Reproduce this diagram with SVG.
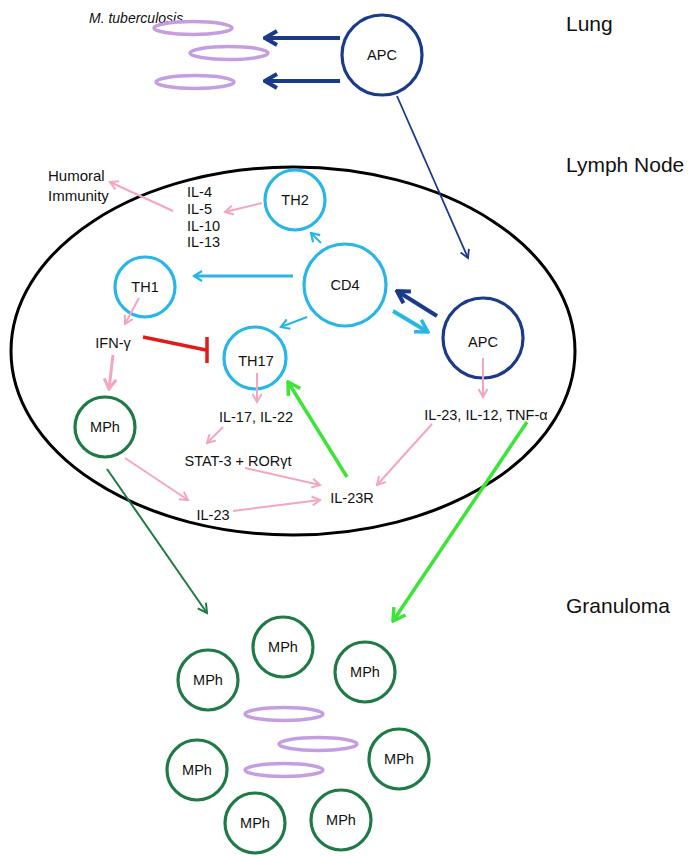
<svg xmlns="http://www.w3.org/2000/svg" width="689" height="856" viewBox="0 0 689 856">
<style>
text{font-family:"Liberation Sans",Arial,sans-serif;font-size:14.5px;fill:#111}
.lbl{font-size:21px}
.mid{text-anchor:middle}
.cy{fill:none;stroke:#29b6e6;stroke-width:3.2}
.nv{fill:none;stroke:#1b3a8a;stroke-width:3.2}
.dg{fill:none;stroke:#1f7a47;stroke-width:3.2}
.mtb{fill:none;stroke:#c49ee0;stroke-width:3.5}
.pk{stroke:#f2a7bf;stroke-width:2;fill:none}
.pkT{stroke:#f2a7bf;stroke-width:3;fill:none}
.cyL{stroke:#29b6e6;fill:none}
.nvL{stroke:#1b3a8a;fill:none}
.gr{stroke:#3ee33a;stroke-width:3.5;fill:none}
.dgL{stroke:#1f7a47;stroke-width:2;fill:none}
</style>
<defs>
<marker id="aPk" markerUnits="userSpaceOnUse" viewBox="-10 -6 12 12" refX="0" refY="0" markerWidth="12" markerHeight="12" orient="auto"><path d="M-8,-4.5 L0,0 L-8,4.5" fill="none" stroke="#f2a7bf" stroke-width="2"/></marker>
<marker id="aPkT" markerUnits="userSpaceOnUse" viewBox="-12 -8 14 16" refX="0" refY="0" markerWidth="14" markerHeight="16" orient="auto"><path d="M-10,-6 L0,0 L-10,6" fill="none" stroke="#f2a7bf" stroke-width="3"/></marker>
<marker id="aCy" markerUnits="userSpaceOnUse" viewBox="-10 -6 12 12" refX="0" refY="0" markerWidth="12" markerHeight="12" orient="auto"><path d="M-8,-5 L0,0 L-8,5" fill="none" stroke="#29b6e6" stroke-width="2.2"/></marker>
<marker id="aCyT" markerUnits="userSpaceOnUse" viewBox="-14 -9 16 18" refX="0" refY="0" markerWidth="16" markerHeight="18" orient="auto"><path d="M-12,-7 L0,0 L-12,7" fill="none" stroke="#29b6e6" stroke-width="3.5"/></marker>
<marker id="aNv" markerUnits="userSpaceOnUse" viewBox="-10 -6 12 12" refX="0" refY="0" markerWidth="12" markerHeight="12" orient="auto"><path d="M-8,-4.5 L0,0 L-8,4.5" fill="none" stroke="#1b3a8a" stroke-width="1.8"/></marker>
<marker id="aNvT" markerUnits="userSpaceOnUse" viewBox="-14 -9 16 18" refX="0" refY="0" markerWidth="16" markerHeight="18" orient="auto"><path d="M-12,-7 L0,0 L-12,7" fill="none" stroke="#1b3a8a" stroke-width="4"/></marker>
<marker id="aGr" markerUnits="userSpaceOnUse" viewBox="-14 -9 16 18" refX="0" refY="0" markerWidth="16" markerHeight="18" orient="auto"><path d="M-12,-7 L0,0 L-12,7" fill="none" stroke="#3ee33a" stroke-width="3.5"/></marker>
<marker id="aDg" markerUnits="userSpaceOnUse" viewBox="-10 -6 12 12" refX="0" refY="0" markerWidth="12" markerHeight="12" orient="auto"><path d="M-9,-5 L0,0 L-9,5" fill="none" stroke="#1f7a47" stroke-width="2"/></marker>
</defs>
<rect width="689" height="856" fill="#fff"/>

<g id="compartment-labels">
<text class="lbl" x="566" y="31">Lung</text>
<text class="lbl" x="566" y="172">Lymph Node</text>
<text class="lbl" x="566" y="613">Granuloma</text>
</g>

<g id="lymph-node">
<ellipse cx="293" cy="351" rx="282" ry="184" fill="none" stroke="#000" stroke-width="3"/>
</g>

<g id="mtb-lung">
<text x="89" y="23" font-style="italic" style="font-size:14px">M. tuberculosis</text>
<ellipse class="mtb" cx="193" cy="28" rx="39" ry="6.5"/>
<ellipse class="mtb" cx="229" cy="53" rx="39" ry="6.5"/>
<ellipse class="mtb" cx="195" cy="82" rx="39" ry="6.5"/>
</g>

<g id="apc-lung"><circle class="nv" cx="382" cy="55" r="40"/><text class="mid" x="382" y="60">APC</text></g>
<g id="th2"><circle class="cy" cx="295" cy="200" r="30"/><text class="mid" x="295" y="205">TH2</text></g>
<g id="cd4"><circle class="cy" cx="345" cy="285" r="41"/><text class="mid" x="345" y="290">CD4</text></g>
<g id="th1"><circle class="cy" cx="145" cy="287" r="30"/><text class="mid" x="145" y="292">TH1</text></g>
<g id="th17"><circle class="cy" cx="255" cy="358" r="31"/><text class="mid" x="256" y="366">TH17</text></g>
<g id="apc-ln"><circle class="nv" cx="483" cy="338" r="40"/><text class="mid" x="483" y="347">APC</text></g>
<g id="mph-ln"><circle class="dg" cx="105" cy="427" r="30"/><text class="mid" x="105" y="432">MPh</text></g>

<g id="labels">
<text x="48" y="181" style="font-size:15px">Humoral</text>
<text x="48" y="201" style="font-size:15px">Immunity</text>
<text x="187" y="197">IL-4</text>
<text x="187" y="214">IL-5</text>
<text x="187" y="231">IL-10</text>
<text x="187" y="247">IL-13</text>
<text class="mid" x="113" y="348">IFN-γ</text>
<text class="mid" x="256" y="422">IL-17, IL-22</text>
<text class="mid" x="238" y="466">STAT-3 + RORγt</text>
<text class="mid" x="352" y="503">IL-23R</text>
<text class="mid" x="213" y="520">IL-23</text>
<text class="mid" x="486" y="420">IL-23, IL-12, TNF-α</text>
</g>

<g id="granuloma">
<ellipse class="mtb" cx="284" cy="714" rx="39" ry="6.5"/>
<ellipse class="mtb" cx="318" cy="744" rx="39" ry="6.5"/>
<ellipse class="mtb" cx="284" cy="770" rx="39" ry="6.5"/>
<g id="mph-g1"><circle class="dg" cx="283" cy="647" r="30"/><text class="mid" x="283" y="652">MPh</text></g>
<g id="mph-g2"><circle class="dg" cx="208" cy="680" r="30"/><text class="mid" x="208" y="685">MPh</text></g>
<g id="mph-g3"><circle class="dg" cx="365" cy="672" r="30"/><text class="mid" x="365" y="677">MPh</text></g>
<g id="mph-g4"><circle class="dg" cx="197" cy="770" r="30"/><text class="mid" x="197" y="775">MPh</text></g>
<g id="mph-g5"><circle class="dg" cx="399" cy="759" r="30"/><text class="mid" x="399" y="764">MPh</text></g>
<g id="mph-g6"><circle class="dg" cx="255" cy="823" r="30"/><text class="mid" x="255" y="828">MPh</text></g>
<g id="mph-g7"><circle class="dg" cx="341" cy="820" r="30"/><text class="mid" x="341" y="825">MPh</text></g>
</g>

<g id="connectors">
<line class="nvL" stroke-width="4" x1="340" y1="38" x2="265" y2="38" marker-end="url(#aNvT)"/>
<line class="nvL" stroke-width="4" x1="340" y1="81" x2="265" y2="81" marker-end="url(#aNvT)"/>
<line class="nvL" stroke-width="1.8" x1="397" y1="96" x2="468" y2="258" marker-end="url(#aNv)"/>
<line class="pk" x1="262" y1="203" x2="225" y2="212" marker-end="url(#aPk)"/>
<line class="pk" x1="173" y1="211" x2="110" y2="182" marker-end="url(#aPk)"/>
<line class="cyL" stroke-width="2" x1="321" y1="243" x2="311" y2="233" marker-end="url(#aCy)"/>
<line class="cyL" stroke-width="3" x1="293" y1="276" x2="194" y2="276" marker-end="url(#aCy)"/>
<line class="cyL" stroke-width="2" x1="307" y1="317" x2="281" y2="327" marker-end="url(#aCy)"/>
<line class="cyL" stroke-width="4" x1="393" y1="311" x2="428" y2="332" marker-end="url(#aCyT)"/>
<line class="nvL" stroke-width="4" x1="437" y1="316" x2="397" y2="291" marker-end="url(#aNvT)"/>
<line class="pk" x1="139" y1="298" x2="125" y2="324" marker-end="url(#aPk)"/>
<line class="pkT" x1="113" y1="355" x2="109" y2="389" marker-end="url(#aPkT)"/>
<g id="inhibition"><line stroke="#e01b1b" stroke-width="3.5" x1="143" y1="337" x2="206" y2="350"/><line stroke="#e01b1b" stroke-width="3.5" x1="207" y1="337" x2="207" y2="363"/></g>
<line class="pk" x1="257" y1="373" x2="257" y2="402" marker-end="url(#aPk)"/>
<line class="pk" x1="223" y1="427" x2="207" y2="443" marker-end="url(#aPk)"/>
<line class="pk" x1="245" y1="468" x2="320" y2="485" marker-end="url(#aPk)"/>
<line class="pk" x1="125" y1="458" x2="188" y2="500" marker-end="url(#aPk)"/>
<line class="pk" x1="233" y1="511" x2="320" y2="500" marker-end="url(#aPk)"/>
<line class="pk" x1="432" y1="424" x2="377" y2="485" marker-end="url(#aPk)"/>
<line class="pk" x1="483" y1="358" x2="483" y2="397" marker-end="url(#aPk)"/>
<line class="gr" x1="347" y1="477" x2="288" y2="382" marker-end="url(#aGr)"/>
<line class="gr" x1="527" y1="422" x2="393" y2="621" marker-end="url(#aGr)"/>
<line class="dgL" x1="107" y1="469" x2="207" y2="613" marker-end="url(#aDg)"/>
</g>
</svg>
